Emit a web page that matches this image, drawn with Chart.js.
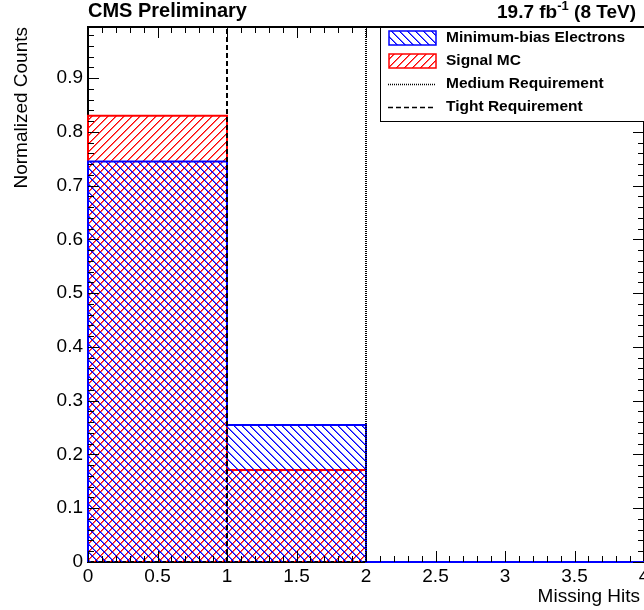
<!DOCTYPE html>
<html>
<head>
<meta charset="utf-8">
<script src="https://cdn.jsdelivr.net/npm/chart.js@4.4.1/dist/chart.umd.min.js"></script>
<style>
  html, body { margin: 0; padding: 0; background: #fff; }
  canvas { display: block; }
</style>
</head>
<body>
<canvas id="histo" width="644" height="610"></canvas>
<script>
// bin edges and normalized contents
const binEdges = [0, 1, 2, 3, 4];
const minBiasElectrons = [0.745, 0.255, 0, 0];
const signalMC = [0.830, 0.171, 0, 0];
const mediumCut = 2;
const tightCut = 1;
const yMax = 0.995;
const legendLabels = ['Minimum-bias Electrons', 'Signal MC', 'Medium Requirement', 'Tight Requirement'];
const xTitle = 'Missing Hits';
const yTitle = 'Normalized Counts';

const FONT = '"Liberation Sans", Arial, Helvetica, sans-serif';

// ROOT-like hatch patterns (3004 / 3005)
function hatch(color, slash) {
    const n = 8;
    const c = document.createElement('canvas');
    c.width = n; c.height = n;
    const g = c.getContext('2d');
    g.fillStyle = color;
    for (let i = 0; i < n; i++) {
        const x = slash ? n - 1 - i : i;
        g.globalAlpha = 1;
        g.fillRect(x, i, 1, 1);
        g.globalAlpha = 0.6;
        g.fillRect((x + 1) % n, i, 1, 1);
    }
    return g.createPattern(c, 'repeat');
}
const blueHatch = hatch('#0000ff', false);
const redHatch = hatch('#ff0000', true);

// step outline points for a histogram
function steps(values) {
    const pts = [{ x: binEdges[0], y: 0 }];
    values.forEach((v, i) => pts.push({ x: binEdges[i], y: v }));
    pts.push({ x: binEdges[binEdges.length - 1], y: 0 });
    return pts;
}

function cutLine(x) {
    return [{ x: x, y: 0 }, { x: x, y: yMax }];
}

const rootStyle = {
    id: 'rootStyle',
    beforeDatasetsDraw(chart) {
        const { ctx, chartArea: a } = chart;
        ctx.save();
        ctx.strokeStyle = '#000';
        ctx.lineWidth = 2;
        ctx.strokeRect(a.left, a.top, a.right - a.left, a.bottom - a.top);
        ctx.restore();
    },
    afterDatasetsDraw(chart) {
        const { ctx, chartArea: a, scales } = chart;
        ctx.save();
        ctx.strokeStyle = '#000';
        ctx.lineWidth = 1;
        ctx.beginPath();
        for (let i = 0; i <= 40; i++) {
            const px = Math.round(scales.x.getPixelForValue(i / 10)) + 0.5;
            const len = i % 5 === 0 ? 11 : 6;
            ctx.moveTo(px, a.bottom); ctx.lineTo(px, a.bottom - len);
            ctx.moveTo(px, a.top); ctx.lineTo(px, a.top + len);
        }
        for (let i = 0; i * 0.02 <= yMax; i++) {
            const py = Math.round(scales.y.getPixelForValue(i * 0.02)) + 0.5;
            const len = i % 5 === 0 ? 11 : 6;
            ctx.moveTo(a.left, py); ctx.lineTo(a.left + len, py);
            ctx.moveTo(a.right, py); ctx.lineTo(a.right - len, py);
        }
        ctx.stroke();
        ctx.restore();
    },
    afterDraw(chart) {
        const { ctx, chartArea: a } = chart;
        ctx.save();
        ctx.fillStyle = '#000';

        // header texts
        ctx.textBaseline = 'alphabetic';
        ctx.textAlign = 'left';
        ctx.font = 'bold 20px ' + FONT;
        ctx.fillText('CMS Preliminary', a.left, 17);

        ctx.font = 'bold 19px ' + FONT;
        const p1 = '19.7 fb', p3 = ' (8 TeV)';
        const w1 = ctx.measureText(p1).width, w3 = ctx.measureText(p3).width;
        ctx.font = 'bold 13px ' + FONT;
        const w2 = ctx.measureText('-1').width;
        let x0 = 636 - (w1 + w2 + w3);
        ctx.font = 'bold 19px ' + FONT;
        ctx.fillText(p1, x0, 18);
        ctx.font = 'bold 13px ' + FONT;
        ctx.fillText('-1', x0 + w1, 10);
        ctx.font = 'bold 19px ' + FONT;
        ctx.fillText(p3, x0 + w1 + w2, 18);

        // axis titles
        ctx.font = '19px ' + FONT;
        ctx.textAlign = 'right';
        ctx.fillText(xTitle, 640, 602);
        ctx.save();
        ctx.translate(27, 27);
        ctx.rotate(-Math.PI / 2);
        ctx.fillText(yTitle, 0, 0);
        ctx.restore();

        // legend
        const lx = 380, ly = 27, lh = 94;
        ctx.fillStyle = '#fff';
        ctx.fillRect(lx, ly, 400, lh);
        ctx.strokeStyle = '#000';
        ctx.lineWidth = 1;
        ctx.strokeRect(lx + 0.5, ly + 0.5, 400, lh);

        ctx.font = 'bold 15.5px ' + FONT;
        ctx.textAlign = 'left';
        ctx.textBaseline = 'middle';
        legendLabels.forEach((label, i) => {
            const cy = 38 + i * 23;
            if (i < 2) {
                ctx.fillStyle = i === 0 ? blueHatch : redHatch;
                ctx.fillRect(389, cy - 7, 47, 14);
                ctx.strokeStyle = i === 0 ? '#0000ff' : '#ff0000';
                ctx.lineWidth = 1.5;
                ctx.strokeRect(389, cy - 7, 47, 14);
            } else {
                ctx.strokeStyle = '#000';
                ctx.lineWidth = 1.5;
                ctx.setLineDash(i === 2 ? [1, 1] : [5, 3]);
                ctx.beginPath();
                ctx.moveTo(388, cy + 0.5);
                ctx.lineTo(436, cy + 0.5);
                ctx.stroke();
                ctx.setLineDash([]);
            }
            ctx.fillStyle = '#000';
            ctx.fillText(label, 446, cy);
        });
        ctx.restore();
    }
};

new Chart(document.getElementById('histo'), {
    type: 'line',
    data: {
        datasets: [
            {
                label: 'Tight Requirement',
                data: cutLine(tightCut),
                borderColor: '#000',
                borderWidth: 2,
                borderDash: [5, 3],
                pointRadius: 0,
                fill: false
            },
            {
                label: 'Medium Requirement',
                data: cutLine(mediumCut),
                borderColor: '#000',
                borderWidth: 2,
                borderDash: [1, 1],
                pointRadius: 0,
                fill: false
            },
            {
                label: 'Minimum-bias Electrons',
                data: steps(minBiasElectrons),
                borderColor: '#0000ff',
                borderWidth: 2,
                backgroundColor: blueHatch,
                stepped: true,
                pointRadius: 0,
                clip: false,
                fill: 'origin'
            },
            {
                label: 'Signal MC',
                data: steps(signalMC),
                borderColor: '#ff0000',
                borderWidth: 2,
                backgroundColor: redHatch,
                stepped: true,
                pointRadius: 0,
                clip: false,
                fill: 'origin'
            }
        ]
    },
    options: {
        responsive: false,
        devicePixelRatio: 1,
        animation: false,
        events: [],
        layout: { padding: { top: 27, left: 0, right: 0, bottom: 0 } },
        plugins: {
            legend: { display: false },
            title: { display: false },
            tooltip: { enabled: false }
        },
        scales: {
            x: {
                type: 'linear',
                min: binEdges[0],
                max: binEdges[binEdges.length - 1],
                grid: { display: false, drawTicks: false },
                border: { display: false },
                ticks: {
                    stepSize: 0.5,
                    autoSkip: false,
                    maxRotation: 0,
                    padding: 3,
                    color: '#000',
                    font: { family: FONT, size: 19 },
                    callback: v => String(+v.toFixed(1))
                },
                afterFit(s) {
                    s.height = 48;
                    s.paddingLeft = 0;
                    s.paddingRight = 0;
                }
            },
            y: {
                type: 'linear',
                min: 0,
                max: yMax,
                grid: { display: false, drawTicks: false },
                border: { display: false },
                ticks: {
                    stepSize: 0.1,
                    includeBounds: false,
                    padding: 5,
                    color: '#000',
                    font: { family: FONT, size: 19 },
                    callback: v => String(+v.toFixed(1))
                },
                afterFit(s) {
                    s.width = 88;
                    s.paddingTop = 0;
                    s.paddingBottom = 0;
                }
            }
        }
    },
    plugins: [rootStyle]
});
</script>
</body>
</html>
